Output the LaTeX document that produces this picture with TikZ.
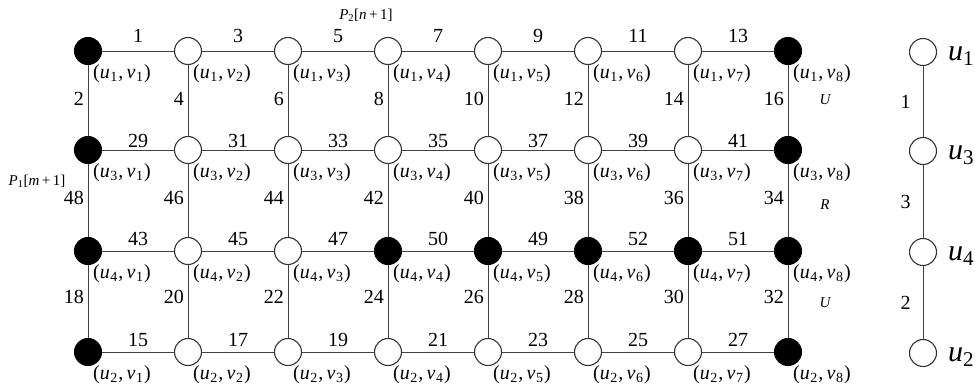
\documentclass[tikz,border=0pt]{standalone}
\usepackage{fontspec}
\setmainfont{Liberation Serif}
\newcommand{\lab}[2]{(\textit{u}\kern0.5pt\textsubscript{#1}\kern0.5pt,\,\textit{v}\kern0.5pt\textsubscript{#2}\kern0.5pt)}
\newcommand{\ulab}[1]{\textit{u}\textsubscript{#1}}
\begin{document}
\begin{tikzpicture}[x=1pt,y=-1pt,
  vtx/.style={circle,draw=black!80,line width=1.1pt,minimum size=27pt,inner sep=0pt,fill=white},
  fvtx/.style={vtx,fill=black,draw=black},
  edge/.style={draw=black!75,line width=1pt},
  num/.style={font=\fontsize{20}{20}\selectfont,inner sep=0pt},
  coordlab/.style={font=\fontsize{20}{20}\selectfont,inner sep=0pt,anchor=west},
  small/.style={font=\fontsize{15}{15}\selectfont\itshape,inner sep=0pt},
  big/.style={font=\fontsize{30}{30}\selectfont,inner sep=0pt,anchor=base west},
]
\useasboundingbox (0,0) rectangle (975,389);
% grid vertices
\foreach \r/\y/\u in {1/51/1,2/150/3,3/251/4,4/352/2}{
  \foreach \c in {1,...,8}{
    \pgfmathtruncatemacro\isf{or(or(\c==1,\c==8),and(\r==3,\c>3))}
    \ifnum\isf=1 \def\st{fvtx}\else\def\st{vtx}\fi
    \node[\st] (n\r\c) at ({88+100*(\c-1)},\y) {};
    \node[coordlab] (l\r\c) at ([shift={(5,23)}]n\r\c.center) {\lab{\u}{\c}};
  }
}
% horizontal edges
\foreach \r/\g/\ls in {1/8pt/{1,3,5,7,9,11,13},2/2pt/{29,31,33,35,37,39,41},3/5pt/{43,45,47,50,49,52,51},4/5pt/{15,17,19,21,23,25,27}}{
  \foreach \t [count=\c, evaluate=\c as \cn using int(\c+1)] in \ls {
    \draw[edge] (n\r\c) -- node[num,above=\g] {\t} (n\r\cn);
  }
}
% vertical edges
\foreach \r/\ls in {1/{2,4,6,8,10,12,14,16},2/{48,46,44,42,40,38,36,34},3/{18,20,22,24,26,28,30,32}}{
  \pgfmathtruncatemacro\rn{\r+1}
  \foreach \t [count=\c] in \ls {
    \draw[edge] (n\r\c) -- (n\rn\c);
  }
}
% vertical edge labels
\foreach \r/\y/\ls in {1/99/{2,4,6,8,10,12,14,16},2/198/{48,46,44,42,40,38,36,34},3/297/{18,20,22,24,26,28,30,32}}{
  \foreach \t [count=\c] in \ls {
    \node[num,anchor=east] (v\r\c) at ({88+100*(\c-1)-4},\y) {\t};
  }
}
% path labels
\node[small] (p2) at (366,15) {\textit{P}\textsubscript{\upshape 2}{\upshape[}\textit{n}\,{\upshape +\,1]}};
\node[small] (p1) at (37,181) {\textit{P}\textsubscript{\upshape 1}{\upshape[}\textit{m}\,{\upshape +\,1]}};
\node[small] (U1) at (825,100) {U};
\node[small] (R1) at (825,205) {R};
\node[small] (U2) at (825,303) {U};
% right path
\foreach \i/\y/\u in {1/52/1,2/151/3,3/252/4,4/353/2}{
  \node[vtx] (r\i) at (923,\y) {};
  \node[big] (ru\i) at (948,{\y+8}) {\ulab{\u}};
}
\foreach \i/\t in {1/1,2/3,3/2}{
  \pgfmathtruncatemacro\j{\i+1}
  \draw[edge] (r\i) -- node[num,left=12pt] {\t} (r\j);
}
\end{tikzpicture}
\end{document}
